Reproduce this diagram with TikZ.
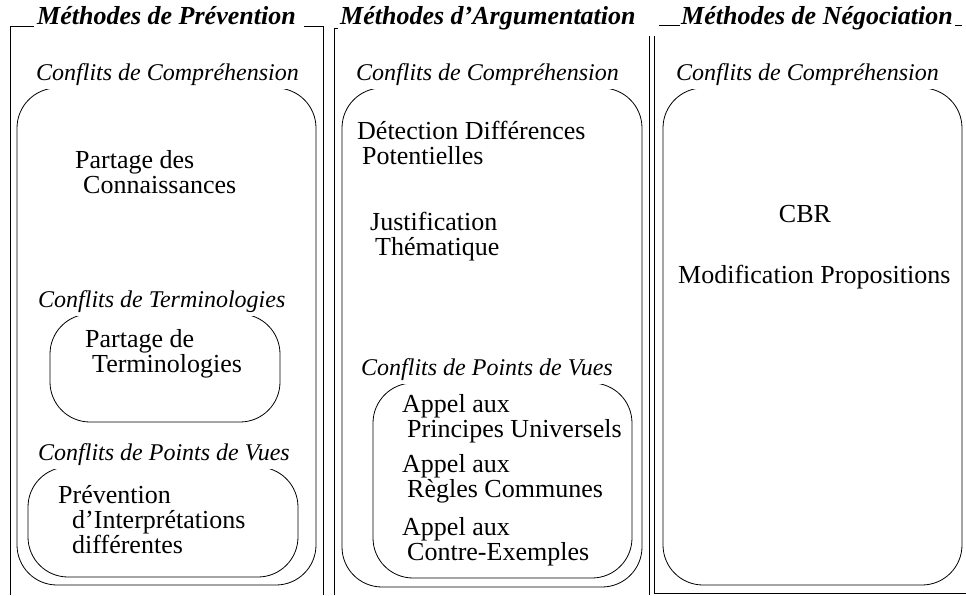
\documentclass[tikz,border=0pt]{standalone}
\usepackage{fontspec}
\setmainfont{Liberation Serif}
\usepackage{tikz}
\tikzstyle{titre} = [font=\fontsize{26}{26}\selectfont\bfseries\itshape, inner sep=0pt]
\tikzstyle{conflit} = [font=\fontsize{24}{24}\selectfont\itshape, fill=white, inner xsep=1pt, inner ysep=4pt]
\tikzstyle{methode} = [font=\fontsize{26}{25}\selectfont, align=left, inner sep=0pt]
\tikzset{
  cadre/.style ={draw, line width=0.8pt},
  boite/.style ={draw, line width=0.8pt, rounded corners=40pt}
}

\begin{document}
\begin{tikzpicture}[x=1pt,y=-1pt, every node/.style={anchor=base west}]
  \useasboundingbox (0,0) rectangle (966,595);

  % cadres des trois colonnes
  \draw[cadre] (34,26) -- (10,26) -- (10,595);
  \draw[cadre] (304,26) -- (323,26) -- (323,595);
  \draw[cadre] (338,28) -- (334,28) -- (334,595);
  \draw[cadre] (649,36) -- (649,595);
  \draw[cadre] (654,36) -- (654,593) -- (966,593);
  \draw[cadre] (659,25) -- (680,25);
  \draw[cadre] (955,25) -- (962,25);

  \node[titre] (prev) at (37,24) {Méthodes de Prévention};
  \node[titre] (argu) at (340,24) {Méthodes d'Argumentation};
  \node[titre] (nego) at (681,24) {Méthodes de Négociation};

  % prevention (base = derniere ligne)
  \draw[boite] (17,88) rectangle (316,585);
  \node[conflit] (pcomp) at (35,80) {Conflits de Compréhension};
  \node[methode] (partcon) at (75,193) {Partage des\\\hspace{8pt}Connaissances};
  \draw[boite] (50,314) rectangle (280,422);
  \node[conflit] (pterm) at (37,307) {Conflits de Terminologies};
  \node[methode] (partterm) at (85,372) {Partage de\\\hspace{7pt}Terminologies};
  \draw[boite] (28,467) rectangle (298,577);
  \node[conflit] (ppdv) at (37,460) {Conflits de Points de Vues};
  \node[methode] (prevint) at (58,553) {Prévention\\\hspace{14pt}d'Interprétations\\\hspace{14pt}différentes};

  % argumentation
  \draw[boite] (342,88) rectangle (642,587);
  \node[conflit] (acomp) at (355,80) {Conflits de Compréhension};
  \node[methode] (detect) at (357,164) {Détection Différences\\\hspace{5pt}Potentielles};
  \node[methode] (justif) at (370,255) {Justification\\\hspace{5pt}Thématique};
  \draw[boite] (373,383) rectangle (632,578);
  \node[conflit] (apdv) at (360,375) {Conflits de Points de Vues};
  \node[methode] (princ) at (402,437) {Appel aux\\\hspace{5pt}Principes Universels};
  \node[methode] (regles) at (402,497) {Appel aux\\\hspace{5pt}Règles Communes};
  \node[methode] (contre) at (402,560) {Appel aux\\\hspace{5pt}Contre-Exemples};

  % negociation
  \draw[boite] (663,88) rectangle (962,585);
  \node[conflit] (ncomp) at (675,80) {Conflits de Compréhension};
  \node[methode, anchor=base] (cbr) at (805,222) {CBR};
  \node[methode] (modif) at (678,283) {Modification Propositions};
\end{tikzpicture}
\end{document}
